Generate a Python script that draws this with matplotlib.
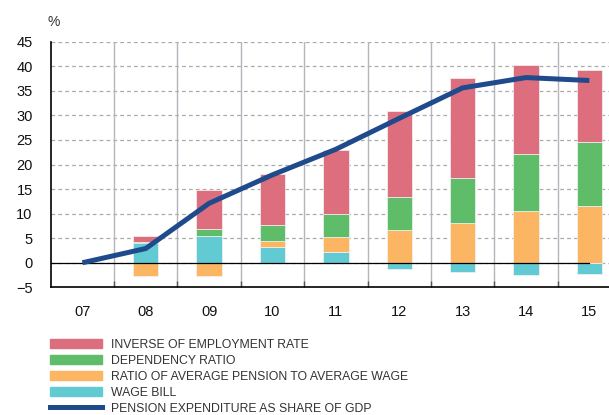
import numpy as np
import matplotlib.pyplot as plt
from matplotlib.patches import Patch
from matplotlib.lines import Line2D

years = ['07', '08', '09', '10', '11', '12', '13', '14', '15']
wage_bill = [0, 4.1, 5.5, 3.3, 2.2, -1.3, -1.95, -2.45, -2.25]
avg_pension = [0, -2.8, -2.65, 1.2, 3.1, 6.6, 8.05, 10.45, 11.65]
dependency = [0, 0.2, 1.35, 3.15, 4.65, 6.7, 9.3, 11.65, 12.85]
inverse_emp = [0, 1.2, 7.95, 10.5, 13.1, 17.65, 20.2, 18.15, 14.8]
pension_exp = [0, 2.9, 12.1, 17.9, 23.1, 29.4, 35.6, 37.7, 37.1]

labels = ['INVERSE OF EMPLOYMENT RATE', 'DEPENDENCY RATIO',
          'RATIO OF AVERAGE PENSION TO AVERAGE WAGE', 'WAGE BILL',
          'PENSION EXPENDITURE AS SHARE OF GDP']
c_red, c_green, c_orange, c_cyan, c_navy = '#DC6E7E', '#5FBD6A', '#FBB563', '#62CAD3', '#1F4A8C'

plt.rcParams['font.family'] = ['Liberation Sans', 'DejaVu Sans']

fig = plt.figure(figsize=(6.09, 4.15), dpi=100)
ax = fig.add_axes([0.0833, 0.3077, 0.9167, 0.5918])

x = np.arange(len(years))
# stack positives upward and negatives downward, in drawing order
series = [(wage_bill, c_cyan), (avg_pension, c_orange), (dependency, c_green), (inverse_emp, c_red)]
pos = np.zeros(len(x))
neg = np.zeros(len(x))
for vals, col in series:
    v = np.array(vals, dtype=float)
    bottoms = np.where(v >= 0, pos, neg)
    ax.bar(x, v, 0.4, bottom=bottoms, color=col, edgecolor='#f4f4f4', linewidth=0.5, zorder=3)
    pos = pos + np.clip(v, 0, None)
    neg = neg + np.clip(v, None, 0)

ax.plot([-0.5, 8], [0, 0], color='black', lw=0.9, zorder=4)
ax.plot(x, pension_exp, color=c_navy, lw=3.6, zorder=5, solid_capstyle='butt')

ax.set_xlim(-0.5, 8.31)
ax.set_ylim(-5, 45)
ax.set_yticks(np.arange(-5, 46, 5))
ax.set_xticks(x)
ax.set_xticklabels(years)
ax.set_xticks(np.arange(0.5, 8.5, 1), minor=True)
ax.tick_params(axis='both', which='major', length=0, labelsize=10.5, colors='#111111')
ax.tick_params(axis='y', pad=13)
ax.tick_params(axis='x', pad=13)
ax.tick_params(axis='x', which='minor', direction='in', length=4, width=1, color='#555555')

for yv in np.arange(0, 46, 5):
    ax.axhline(yv, color='#aaaaaa', lw=0.9, ls=(0, (3, 2.5)), zorder=1)
for xv in np.arange(0.5, 8.5, 1):
    ax.axvline(xv, color='#b5b5bd', lw=1, zorder=1)

for s in ['top', 'right']:
    ax.spines[s].set_visible(False)
ax.spines['left'].set_linewidth(1.2)
ax.spines['bottom'].set_linewidth(1.2)

fig.text(48 / 609, 1 - 22 / 415, '%', fontsize=10, va='center', ha='left', color='#333333')

handles = [Patch(color=c_red), Patch(color=c_green), Patch(color=c_orange), Patch(color=c_cyan),
           Line2D([], [], color=c_navy, lw=3.6)]
leg = fig.legend(handles, labels, loc='upper left', bbox_to_anchor=(50 / 609, 1 - 339 / 415),
                 frameon=False, fontsize=8.8, labelspacing=0.32, handlelength=4.26,
                 handleheight=0.74, handletextpad=0.74, borderaxespad=0, borderpad=0)
for t in leg.get_texts():
    t.set_color('#333333')

fig.savefig('out.png', dpi=100)
